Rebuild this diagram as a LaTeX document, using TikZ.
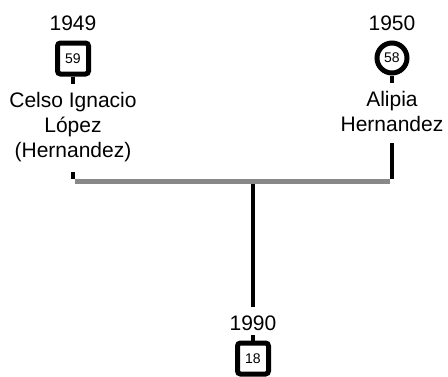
\documentclass[tikz,border=0pt]{standalone}
\usepackage{fontspec}
\setmainfont{Liberation Sans}
\definecolor{lineGray}{RGB}{136,136,136}
\begin{document}
\begin{tikzpicture}[x=1pt,y=-1pt,
  yeartext/.style={font=\fontsize{21}{25}\selectfont, anchor=base, inner sep=0pt},
  nametext/.style={font=\fontsize{21}{25}\selectfont, align=center, anchor=north, inner sep=0pt},
  malebox/.style={draw=black, line width=5pt, fill=white, rounded corners=3pt, minimum size=31pt, inner sep=0pt, font=\fontsize{14}{16}\selectfont},
  femalebox/.style={draw=black, line width=5pt, fill=white, circle, minimum size=30pt, inner sep=0pt, font=\fontsize{14}{16}\selectfont},
  stem/.style={draw=black, line width=4.5pt},
  bar/.style={draw=lineGray, line width=5pt}
]
\useasboundingbox (0,0) rectangle (448,376);
% left parent
\node[yeartext] (y1) at (73,30) {1949};
\node[malebox] (p1) at (73,58.5) {59};
\node[nametext] (n1) at (73,92) {Celso Ignacio\\López\\(Hernandez)};
% right parent
\node[yeartext] (y2) at (392,30) {1950};
\node[femalebox] (p2) at (392,58) {58};
\node[nametext] (n2) at (392,91) {Alipia\\Hernandez};
% child
\node[yeartext] (y3) at (253,330) {1990};
\node[malebox] (c1) at (253,358.5) {18};
% couple line
\coordinate (l1) at (73,181);
\coordinate (r1) at (392,181);
\coordinate (m1) at (253,181);
\coordinate (cTop) at (253,307);
\coordinate (cStem) at (253,335);
\draw[stem] (p1.south) -- ++(0,7);
\draw[stem] (p2.south) -- ++(0,7);
\draw[stem] (c1.north) -- (cStem);
\draw[stem] (73,172) -- ([yshift=2pt]l1);
\draw[stem] (392,143) -- ([yshift=2pt]r1);
\draw[stem] (m1) -- (cTop);
\draw[bar] ([xshift=2pt]l1) -- ([xshift=-2pt]r1);
\end{tikzpicture}
\end{document}
